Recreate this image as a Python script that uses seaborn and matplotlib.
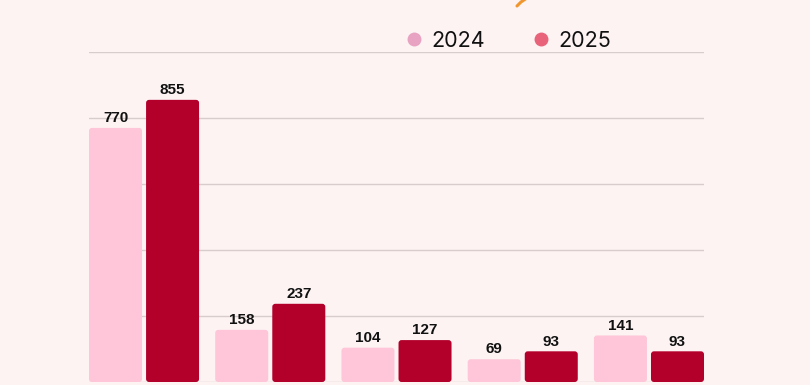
import matplotlib
matplotlib.use("Agg")
import matplotlib.pyplot as plt
import seaborn as sns
import pandas as pd
from matplotlib.lines import Line2D
from matplotlib.patches import FancyBboxPatch

categories = ["A", "B", "C", "D", "E"]
years = ["2024", "2025"]
values_2024 = [770, 158, 104, 69, 141]
values_2025 = [855, 237, 127, 93, 93]

bg = "#fdf3f3"
bar_colors = {"2024": "#fec6d8", "2025": "#b2002b"}
legend_colors = {"2024": "#e8a2c2", "2025": "#e8637a"}

df = pd.DataFrame({
    "cat": categories * 2,
    "year": ["2024"] * len(categories) + ["2025"] * len(categories),
    "value": values_2024 + values_2025,
})

sns.set_theme(style="white")
plt.rcParams["font.family"] = ["Inter", "DejaVu Sans"]

fig = plt.figure(figsize=(8.1, 3.85), dpi=100, facecolor=bg)
ax = fig.add_axes([89 / 810, 3 / 385, 615 / 810, 330 / 385], facecolor=bg)

sns.barplot(data=df, x="cat", y="value", hue="year", hue_order=years,
            palette=bar_colors, width=0.904, gap=0.071, saturation=1,
            linewidth=0, edgecolor="none", legend=False, ax=ax, zorder=3)

ax.set_xlim(-0.436, 4.436)
ax.set_ylim(0, 1000)
ax.set_yticks([0, 200, 400, 600, 800, 1000])
ax.yaxis.grid(True, color="#d8cccc", linewidth=1, zorder=0)
ax.set_axisbelow(True)
for s in ax.spines.values():
    s.set_visible(False)
ax.set_xticks([])
ax.set_yticklabels([])
ax.tick_params(left=False, bottom=False)
ax.set_xlabel("")
ax.set_ylabel("")

for cont in ax.containers:
    ax.bar_label(cont, fmt="%d", padding=2, fontsize=11, fontweight="bold",
                 color="#111111", family=["Liberation Sans", "DejaVu Sans"])

# round the bar corners slightly
px_x = 4.872 / 615
px_y = 1000 / 330
for p in list(ax.patches):
    x, y = p.get_x(), p.get_y()
    w, h = p.get_width(), p.get_height()
    r = 3 * px_x
    fb = FancyBboxPatch((x, y), w, h,
                        boxstyle=f"round,pad=0,rounding_size={r}",
                        mutation_aspect=px_y / px_x,
                        facecolor=p.get_facecolor(), edgecolor="none",
                        linewidth=0, zorder=3)
    p.set_visible(False)
    ax.add_patch(fb)

handles = [Line2D([0], [0], marker="o", linestyle="", markersize=9,
                  markerfacecolor=legend_colors[y], markeredgecolor=legend_colors[y])
           for y in years]
fig.legend(handles, years, loc="center", bbox_to_anchor=(507 / 810, 1 - 41 / 385),
           ncol=2, frameon=False, fontsize=15.5, handletextpad=0.3,
           columnspacing=2.1, handlelength=1.0, labelcolor="#111111")

# fragment of decorative title stroke at the top
fig.add_artist(Line2D([517 / 810, 521 / 810, 527 / 810], [1 - 6 / 385, 1 - 2 / 385, 1 + 2 / 385],
                      color="#f0962c", linewidth=2.2, solid_capstyle="round"))

fig.savefig("out.png", dpi=100, facecolor=bg)
